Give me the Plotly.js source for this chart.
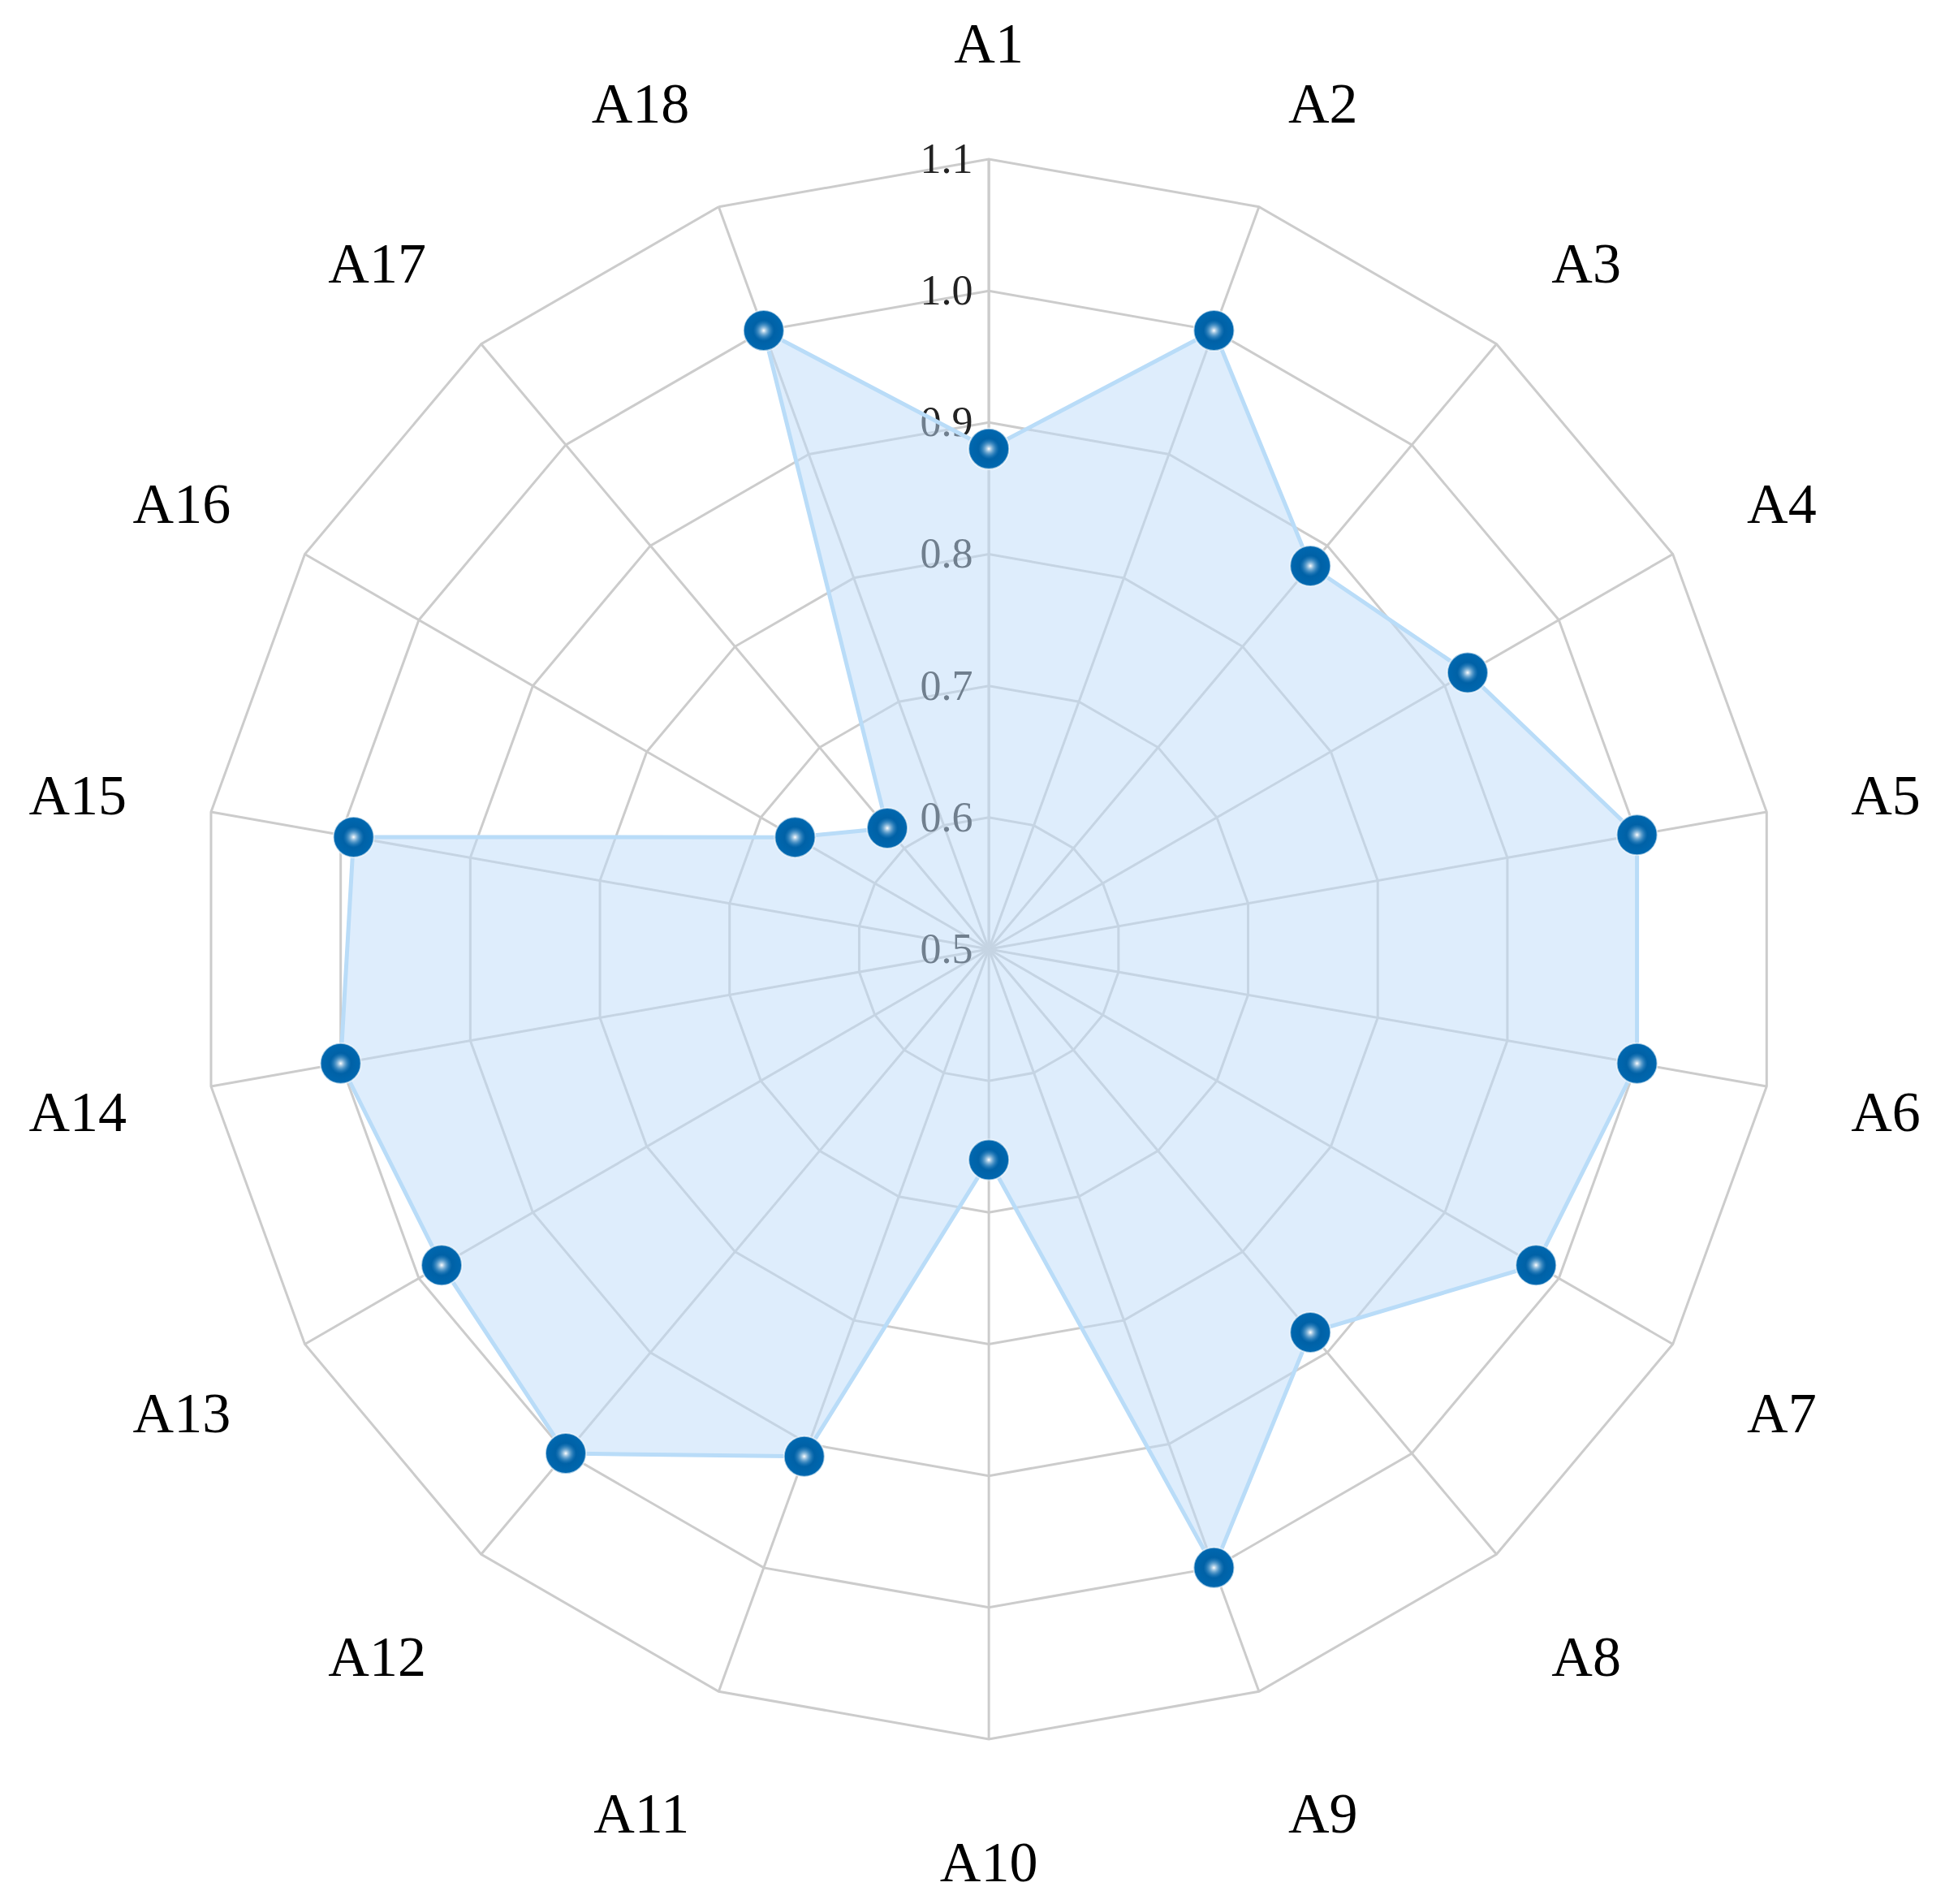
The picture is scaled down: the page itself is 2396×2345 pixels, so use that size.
<!DOCTYPE html>
<html>
<head>
<meta charset="utf-8">
<script src="https://cdn.plot.ly/plotly-3.0.1.min.js"></script>
<style>
  html, body { margin: 0; padding: 0; background: #fff; }
  #chart { width: 2396px; height: 2345px; }
</style>
</head>
<body>
<div id="chart"></div>
<script>
// categorías del radar
const categorias = ['A1', 'A2', 'A3', 'A4', 'A5', 'A6', 'A7', 'A8', 'A9',
                    'A10', 'A11', 'A12', 'A13', 'A14', 'A15', 'A16', 'A17', 'A18'];
// valores
const valores = [0.88, 1.0, 0.88, 0.92, 1.0, 1.0, 0.98, 0.88, 1.0,
                 0.66, 0.91, 1.0, 0.98, 1.0, 0.99, 0.67, 0.62, 1.0];
const ticksRadiales = [0.5, 0.6, 0.7, 0.8, 0.9, 1.0, 1.1];

// cerrar el polígono
const r = valores.concat([valores[0]]);
const theta = categorias.concat([categorias[0]]);

const area = {
    type: 'scatterpolar',
    r: r,
    theta: theta,
    mode: 'lines+markers',
    fill: 'toself',
    fillcolor: 'rgba(190, 220, 250, 0.5)',
    line: { color: '#b9dcf8', width: 5 },
    marker: {
        size: 50,
        color: '#0068b0',
        gradient: { type: 'radial', color: '#005a9c' },
        line: { color: 'rgba(255,255,255,0.6)', width: 2 }
    },
    hoverinfo: 'skip'
};

// brillo de las esferas
const brillo = {
    type: 'scatterpolar',
    r: valores,
    theta: categorias,
    mode: 'markers',
    marker: {
        size: 26,
        color: 'rgba(60,150,215,0)',
        gradient: { type: 'radial', color: 'rgba(255,255,255,1)' }
    },
    hoverinfo: 'skip'
};

const layout = {
    width: 2396,
    height: 2345,
    margin: { l: 0, r: 0, t: 0, b: 0 },
    paper_bgcolor: '#ffffff',
    showlegend: false,
    polar: {
        domain: { x: [0.1023, 0.9145], y: [0.0866, 0.9164] },
        bgcolor: 'rgba(0,0,0,0)',
        gridshape: 'linear',
        radialaxis: {
            range: [0.5, 1.1],
            tickvals: ticksRadiales,
            tickformat: '.1f',
            angle: 90,
            side: 'counterclockwise',
            tickangle: 90,
            layer: 'below traces',
            showline: true,
            linecolor: '#cccccc',
            linewidth: 3,
            gridcolor: '#cccccc',
            gridwidth: 3,
            ticks: '',
            tickfont: { family: 'Liberation Serif, serif', size: 52, color: '#222222' }
        },
        angularaxis: {
            direction: 'clockwise',
            rotation: 90,
            categoryarray: categorias,
            layer: 'below traces',
            linecolor: '#cccccc',
            linewidth: 3,
            gridcolor: '#cccccc',
            gridwidth: 3,
            ticks: 'outside',
            ticklen: 90,
            tickcolor: 'rgba(0,0,0,0)',
            tickfont: { family: 'Liberation Serif, serif', size: 70, color: '#000000' }
        }
    }
};

Plotly.newPlot('chart', [area, brillo], layout, { displayModeBar: false });
</script>
</body>
</html>
